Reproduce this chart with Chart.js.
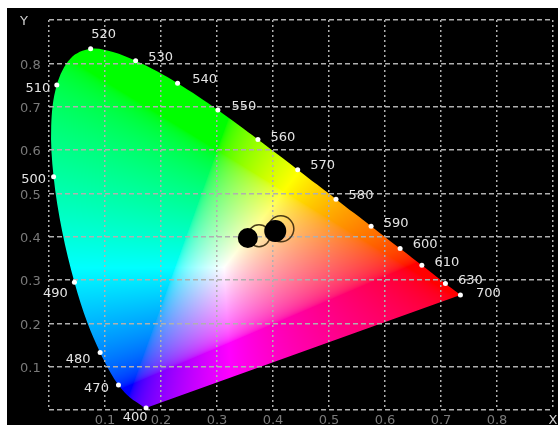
<!DOCTYPE html>
<html>
<head>
<meta charset="utf-8">
<script src="https://cdn.jsdelivr.net/npm/chart.js@4/dist/chart.umd.min.js"></script>
<style>
  html, body { margin: 0; padding: 0; background: #fff; }
  #wrap { position: relative; width: 558px; height: 425px; }
</style>
</head>
<body>
<div id="wrap"><canvas id="cie"></canvas></div>
<script>
/* ─── Data ─── */
// CIE 1931 spectral locus, as drawn in the picture
const wavelengths = [380, 390, 400, 410, 420, 430, 440, 450, 460, 465, 470, 475, 480, 485, 490, 495, 500, 505, 510, 515, 520, 525, 530, 535, 540, 545, 550, 555, 560, 565, 570, 575, 580, 585, 590, 595, 600, 605, 610, 620, 630, 640, 650, 660, 680, 700];
const locusX = [0.1741, 0.1738, 0.1733, 0.1726, 0.1714, 0.1689, 0.1644, 0.1566, 0.1440, 0.1355, 0.1241, 0.1096, 0.0913, 0.0687, 0.0454, 0.0235, 0.0082, 0.0039, 0.0139, 0.0389, 0.0743, 0.1142, 0.1547, 0.1929, 0.2296, 0.2658, 0.3016, 0.3373, 0.3731, 0.4087, 0.4441, 0.4788, 0.5125, 0.5448, 0.5752, 0.6029, 0.6270, 0.6482, 0.6658, 0.6915, 0.7079, 0.7190, 0.7260, 0.7300, 0.7334, 0.7347];
const locusY = [0.0050, 0.0049, 0.0048, 0.0048, 0.0051, 0.0069, 0.0109, 0.0177, 0.0297, 0.0399, 0.0578, 0.0868, 0.1327, 0.2007, 0.2950, 0.4127, 0.5384, 0.6548, 0.7502, 0.8120, 0.8338, 0.8262, 0.8059, 0.7816, 0.7543, 0.7243, 0.6923, 0.6589, 0.6245, 0.5896, 0.5547, 0.5202, 0.4866, 0.4544, 0.4242, 0.3965, 0.3725, 0.3514, 0.3340, 0.3083, 0.2920, 0.2809, 0.2740, 0.2700, 0.2666, 0.2653];

// wavelengths marked with a dot and a label
const markedNm = [400, 470, 480, 490, 500, 510, 520, 530, 540, 550, 560, 570, 580, 590, 600, 610, 630, 700];

// measured points (filled) and their outlines
const sampleX = [0.355, 0.404];
const sampleY = [0.397, 0.413];
const ringX = [0.375, 0.414];
const ringY = [0.402, 0.418];

const axisMax = 0.9;

/* ─── Label placement (px, relative to the dot) ─── */
const labelOffsets = {
  400: [-11, 10], 470: [-22, 4], 480: [-22, 7], 490: [-19, 11], 500: [-20, 3], 510: [-19, 4],
  520: [13, -14], 530: [25, -3], 540: [27, -4], 550: [26, -3], 560: [25, -2], 570: [25, -4],
  580: [25, -4], 590: [25, -3], 600: [25, -4], 610: [25, -3], 630: [25, -3], 700: [28, -1]
};

const FONT = '"DejaVu Sans", Verdana, sans-serif';

/* ─── xy -> sRGB ─── */
function xyToRgb(x, y) {
  const X = x / y, Y = 1, Z = (1 - x - y) / y;
  let r = 3.2406 * X - 1.5372 * Y - 0.4986 * Z;
  let g = -0.9689 * X + 1.8758 * Y + 0.0415 * Z;
  let b = 0.0557 * X - 0.2040 * Y + 1.0570 * Z;
  r = Math.max(r, 0); g = Math.max(g, 0); b = Math.max(b, 0);
  const m = Math.max(r, g, b) || 1;
  const gam = v => {
    v = v / m;
    return 255 * (v <= 0.0031308 ? 12.92 * v : 1.055 * Math.pow(v, 1 / 2.4) - 0.055);
  };
  return [gam(r), gam(g), gam(b)];
}

/* ─── Plugins ─── */
const diagramFill = {
  id: 'diagramFill',
  beforeDraw(chart) {
    const { ctx, chartArea: a, scales } = chart;
    ctx.save();
    ctx.fillStyle = '#000';
    ctx.fillRect(7, 8, chart.width - 7, chart.height - 8);

    const w = Math.ceil(a.right - a.left), h = Math.ceil(a.bottom - a.top);
    const off = document.createElement('canvas');
    off.width = w; off.height = h;
    const octx = off.getContext('2d');
    const img = octx.createImageData(w, h);
    for (let j = 0; j < h; j++) {
      const yv = scales.y.getValueForPixel(a.top + j + 0.5);
      for (let i = 0; i < w; i++) {
        const xv = scales.x.getValueForPixel(a.left + i + 0.5);
        const k = (j * w + i) * 4;
        if (yv <= 0.001) { img.data[k + 3] = 0; continue; }
        const c = xyToRgb(xv, yv);
        img.data[k] = c[0]; img.data[k + 1] = c[1]; img.data[k + 2] = c[2]; img.data[k + 3] = 255;
      }
    }
    octx.putImageData(img, 0, 0);

    // smooth outline of the locus, taken from the line element
    const line = chart.getDatasetMeta(3).dataset;
    line.updateControlPoints(a, 'x');
    ctx.beginPath();
    line.path(ctx);
    ctx.closePath();
    ctx.clip();
    ctx.drawImage(off, a.left, a.top);
    ctx.restore();
  }
};

const nmLabels = {
  id: 'nmLabels',
  afterDatasetsDraw(chart) {
    const { ctx } = chart;
    const meta = chart.getDatasetMeta(2);
    ctx.save();
    ctx.font = '13px ' + FONT;
    ctx.fillStyle = '#e4e4e4';
    ctx.textAlign = 'center';
    ctx.textBaseline = 'middle';
    meta.data.forEach((p, i) => {
      const nm = markedNm[i];
      const o = labelOffsets[nm];
      ctx.fillText(String(nm), p.x + o[0], p.y + o[1]);
    });
    ctx.restore();
  }
};

/* ─── Chart ─── */
const idx = nm => wavelengths.indexOf(nm);
const fmt = (v, last) => Math.abs(v - axisMax) < 1e-6 ? last : (v < 1e-6 ? '' : v.toFixed(1));

new Chart(document.getElementById('cie'), {
  type: 'scatter',
  data: {
    datasets: [
      {
        data: sampleX.map((x, i) => ({ x, y: sampleY[i] })),
        backgroundColor: '#000',
        borderWidth: 0,
        pointRadius: [10, 11]
      },
      {
        data: ringX.map((x, i) => ({ x, y: ringY[i] })),
        backgroundColor: 'rgba(0,0,0,0)',
        borderColor: 'rgba(45,30,5,0.85)',
        borderWidth: 1.5,
        pointRadius: [11, 13]
      },
      {
        data: markedNm.map(nm => ({ x: locusX[idx(nm)], y: locusY[idx(nm)] })),
        backgroundColor: '#fff',
        borderWidth: 0,
        pointRadius: 2.5
      },
      {
        data: wavelengths.map((nm, i) => ({ x: locusX[i], y: locusY[i] })),
        showLine: true,
        tension: 0.35,
        borderWidth: 0,
        borderColor: 'rgba(0,0,0,0)',
        pointRadius: 0
      }
    ]
  },
  options: {
    responsive: true,
    maintainAspectRatio: false,
    animation: false,
    layout: { autoPadding: false, padding: { left: 20, top: 20, right: 5, bottom: 0 } },
    plugins: { legend: { display: false }, tooltip: { enabled: false } },
    scales: {
      x: {
        min: 0, max: axisMax,
        afterFit: s => { s.height = 15; s.paddingLeft = 0; s.paddingRight = 0; },
        grid: { color: '#b0b0b0', lineWidth: 1.5, drawTicks: false },
        border: { display: false, dash: [2, 3] },
        ticks: {
          stepSize: 0.1, padding: 3, maxRotation: 0, autoSkip: false,
          color: c => Math.abs(c.tick.value - axisMax) < 1e-6 ? '#cfcfcf' : '#7a7a7a',
          font: { family: FONT, size: 13 },
          callback: v => fmt(v, 'X')
        }
      },
      y: {
        min: 0, max: axisMax,
        afterFit: s => { s.width = 29; s.paddingTop = 0; s.paddingBottom = 0; },
        grid: { color: '#b0b0b0', lineWidth: 1.5, drawTicks: false },
        border: { display: false, dash: [5, 3] },
        ticks: {
          stepSize: 0.1, padding: 7, crossAlign: 'far', labelOffset: 2, autoSkip: false,
          color: c => Math.abs(c.tick.value - axisMax) < 1e-6 ? '#cfcfcf' : '#7a7a7a',
          font: { family: FONT, size: 13 },
          callback: v => fmt(v, 'Y')
        }
      }
    }
  },
  plugins: [diagramFill, nmLabels]
});
</script>
</body>
</html>
